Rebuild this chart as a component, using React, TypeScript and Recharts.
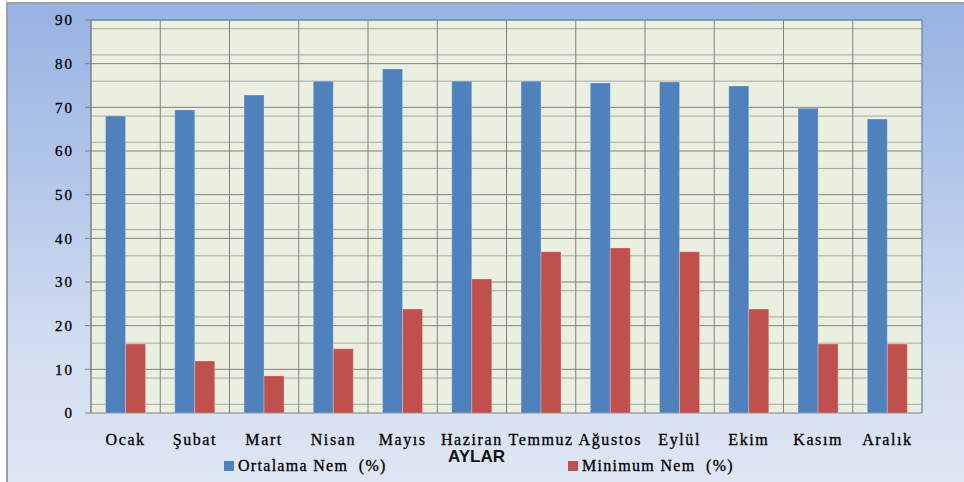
import { BarChart, Bar, XAxis, YAxis, CartesianGrid, Legend, ReferenceLine } from "recharts";

const MONTHS = ["Ocak", "Şubat", "Mart", "Nisan", "Mayıs", "Haziran", "Temmuz", "Ağustos", "Eylül", "Ekim", "Kasım", "Aralık"];
const ORTALAMA = [68, 69.4, 72.8, 76, 78.8, 76, 76, 75.6, 75.8, 74.9, 69.8, 67.3];
const MINIMUM = [15.8, 11.9, 8.5, 14.7, 23.8, 30.7, 36.9, 37.8, 36.9, 23.8, 15.8, 15.8];

const Y_TICKS = [0, 10, 20, 30, 40, 50, 60, 70, 80, 90];
const MINOR_TICKS = [2, 4, 6, 8, 12, 14, 16, 18, 22, 24, 26, 28, 32, 34, 36, 38, 42, 44, 46, 48, 52, 54, 56, 58, 62, 64, 66, 68, 72, 74, 76, 78, 82, 84, 86, 88];
const BOUNDARIES = [0, 1, 2, 3, 4, 5, 6, 7, 8, 9, 10, 11, 12];

const SERIES = [
  { key: "ortalama", name: "Ortalama Nem  (%)", color: "#4f81bd" },
  { key: "minimum", name: "Minimum Nem  (%)", color: "#c0504d" },
];

const data = MONTHS.map((ay, i) => ({
  ay,
  pos: i + 0.5,
  ortalama: ORTALAMA[i],
  minimum: MINIMUM[i],
}));

const serif = "'Liberation Serif', 'Times New Roman', serif";

function LegendBox() {
  return (
    <div style={{ position: "relative", width: 964, height: 40 }}>
      <span
        style={{
          position: "absolute",
          left: 448,
          top: 1,
          fontFamily: "'Liberation Sans', Arial, sans-serif",
          fontWeight: "bold",
          fontSize: 17,
          color: "#111",
        }}
      >
        AYLAR
      </span>
      {SERIES.map((s, i) => (
        <div
          key={s.key}
          style={{
            position: "absolute",
            left: i === 0 ? 224 : 568,
            top: 11,
            display: "flex",
            alignItems: "center",
            whiteSpace: "pre",
            fontFamily: serif,
            fontSize: 16,
            letterSpacing: 1.3,
            color: "#000",
            WebkitTextStroke: "0.3px #000",
          }}
        >
          <span style={{ width: 10, height: 10, background: s.color, marginRight: 4, display: "inline-block" }} />
          <span>{s.name}</span>
        </div>
      ))}
    </div>
  );
}

export default function App() {
  return (
    <div style={{ position: "fixed", left: 0, top: 0, width: 964, height: 482, background: "#fff", overflow: "hidden" }}>
      <div
        style={{
          position: "absolute",
          left: 6,
          top: 2,
          width: 970,
          height: 490,
          borderTop: "2px solid #a0a0a0",
          borderLeft: "2px solid #a0a0a0",
          background: "linear-gradient(to bottom, #97b3e3 0%, #b3c6ea 35%, #d3ddf1 70%, #e0e7f4 100%)",
        }}
      />
      {/* plot area panel */}
      <div style={{ position: "absolute", left: 91, top: 20, width: 831, height: 393, background: "#ebefdf" }} />
      <div style={{ position: "absolute", left: 0, top: 0 }}>
        <BarChart
          width={964}
          height={482}
          data={data}
          margin={{ top: 20, right: 42, bottom: 0, left: 0 }}
          barCategoryGap="21%"
          barGap={0}
        >
          <CartesianGrid
            xAxisId="grid"
            vertical={false}
            horizontalValues={MINOR_TICKS}
            stroke="#a6a7a4"
          />
          <CartesianGrid
            xAxisId="grid"
            stroke="#808080"
            verticalCoordinatesGenerator={({ offset }: any) =>
              BOUNDARIES.map((b) => offset.left + (b * offset.width) / 12)
            }
          />
          <XAxis
            xAxisId="grid"
            type="number"
            dataKey="pos"
            domain={[0, 12]}
            ticks={BOUNDARIES}
            tick={false}
            tickLine={{ stroke: "#808080" }}
            tickSize={6}
            height={0}
            stroke="#808080"
          />
          <XAxis
            xAxisId="cat"
            dataKey="ay"
            axisLine={false}
            tickLine={false}
            tickSize={6}
            tickMargin={15}
            height={69}
            interval={0}
            tick={{ fontFamily: serif, fontSize: 16, fill: "#000", stroke: "#000", strokeWidth: 0.3, letterSpacing: 1.6 }}
          />
          <YAxis
            domain={[0, 90]}
            ticks={Y_TICKS}
            width={91}
            tickSize={6}
            tickMargin={11}
            stroke="#808080"
            tick={{ fontFamily: serif, fontSize: 15, fill: "#000", stroke: "#000", strokeWidth: 0.3, letterSpacing: 2 }}
          />
          <ReferenceLine y={90} xAxisId="grid" stroke="#5f88c2" />
          <ReferenceLine x={12} xAxisId="grid" stroke="#6f94c8" />
          {SERIES.map((s) => (
            <Bar
              key={s.key}
              xAxisId="cat"
              dataKey={s.key}
              name={s.name}
              fill={s.color}
              stroke="#ffffff"
              strokeOpacity={0.25}
              isAnimationActive={false}
            />
          ))}
          <Legend
            verticalAlign="middle"
            layout="horizontal"
            content={() => <LegendBox />}
            wrapperStyle={{ position: "absolute", left: 0, top: 446, width: 964 }}
          />
        </BarChart>
      </div>
    </div>
  );
}
